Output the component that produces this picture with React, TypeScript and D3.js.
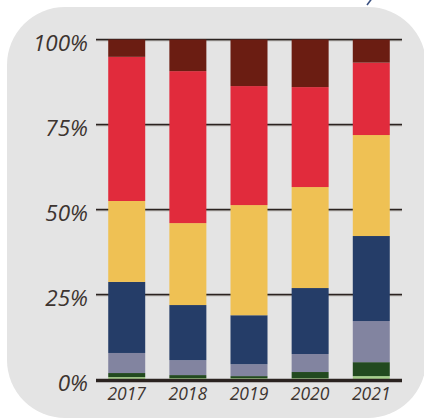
import * as d3 from 'd3';

// Share of total per year, stacked bottom to top (percent)
const YEARS = ['2017', '2018', '2019', '2020', '2021'];
const LIGHT_GREEN = [0.7, 0.4, 0.4, 0.4, 1.0];
const DARK_GREEN = [1.2, 0.9, 0.6, 1.8, 4.1];
const SLATE = [5.9, 4.4, 3.5, 5.3, 12.1];
const NAVY = [20.9, 16.2, 14.4, 19.4, 25.0];
const YELLOW = [23.8, 24.1, 32.4, 29.7, 29.7];
const RED = [42.4, 44.7, 35.0, 29.4, 21.3];
const BROWN = [5.1, 9.3, 13.7, 14.0, 6.8];
const Y_TICKS = [0, 25, 50, 75, 100];

const SERIES = [
  { key: 'lightGreen', values: LIGHT_GREEN, color: '#a6cf8b' },
  { key: 'darkGreen', values: DARK_GREEN, color: '#224a1f' },
  { key: 'slate', values: SLATE, color: '#8284a0' },
  { key: 'navy', values: NAVY, color: '#253d68' },
  { key: 'yellow', values: YELLOW, color: '#efc154' },
  { key: 'red', values: RED, color: '#e12b3c' },
  { key: 'brown', values: BROWN, color: '#6b1d12' },
];

const WIDTH = 424;
const HEIGHT = 419;
const TEXT = '#3d3430';
const RULE = '#2b2320';

export default function App() {
  const x = d3.scaleBand<string>()
    .domain(YEARS)
    .range([96, 402])
    .paddingInner(0.395)
    .paddingOuter(0.2);

  const y = d3.scaleLinear().domain([0, 100]).range([379.5, 39.5]);

  const rows = YEARS.map((year, i) => {
    const row: Record<string, number | string> = { year };
    SERIES.forEach((s) => { row[s.key] = s.values[i]; });
    return row;
  });

  const stacked = d3.stack<Record<string, number | string>>()
    .keys(SERIES.map((s) => s.key))
    .value((d, key) => d[key] as number)(rows);

  // rounded grey panel behind the chart
  const panel = d3.path();
  const px0 = 7, py0 = 7, px1 = 426, py1 = 418, r = 58;
  panel.moveTo(px0 + r, py0);
  panel.lineTo(px1 - r, py0);
  panel.arcTo(px1, py0, px1, py0 + r, r);
  panel.lineTo(px1, py1 - r);
  panel.arcTo(px1, py1, px1 - r, py1, r);
  panel.lineTo(px0 + r, py1);
  panel.arcTo(px0, py1, px0, py1 - r, r);
  panel.lineTo(px0, py0 + r);
  panel.arcTo(px0, py0, px0 + r, py0, r);
  panel.closePath();

  const [xMin, xMax] = x.range();

  return (
    <svg
      width={WIDTH}
      height={HEIGHT}
      style={{ position: 'absolute', left: 0, top: 0, background: '#fff' }}
      fontFamily="'Open Sans', sans-serif"
    >
      <path d={panel.toString()} fill="#e4e4e4" />
      <line x1={367} y1={5} x2={371.5} y2={-1} stroke="#3a5080" strokeWidth={1.6} />

      {/* gridlines */}
      {Y_TICKS.filter((t) => t > 0).map((t) => (
        <g key={t}>
          <line x1={xMin} x2={xMax} y1={y(t) + 1.2} y2={y(t) + 1.2} stroke="#9a9592" strokeWidth={1} />
          <line x1={xMin} x2={xMax} y1={y(t)} y2={y(t)} stroke={RULE} strokeWidth={1.4} />
        </g>
      ))}

      {/* stacked bars */}
      {stacked.map((layer, li) => (
        <g key={layer.key} fill={SERIES[li].color}>
          {layer.map((d, i) => (
            <rect
              key={YEARS[i]}
              x={x(YEARS[i])}
              width={x.bandwidth()}
              y={y(d[1])}
              height={y(d[0]) - y(d[1])}
            />
          ))}
        </g>
      ))}

      {/* baseline */}
      <line x1={xMin} x2={xMax} y1={380.5} y2={380.5} stroke={RULE} strokeWidth={3.5} />

      {/* y tick labels */}
      {Y_TICKS.map((t) => (
        <text
          key={t}
          x={88}
          y={y(t) + 11.5}
          textAnchor="end"
          fontSize={22.5}
          fontStyle="italic"
          fill={TEXT}
        >
          {`${t}%`}
        </text>
      ))}

      {/* x labels */}
      {YEARS.map((yr) => (
        <text
          key={yr}
          x={(x(yr) ?? 0) + x.bandwidth() / 2}
          y={399.5}
          textAnchor="middle"
          fontSize={17.5}
          fontStyle="italic"
          fill={TEXT}
        >
          {yr}
        </text>
      ))}
    </svg>
  );
}
